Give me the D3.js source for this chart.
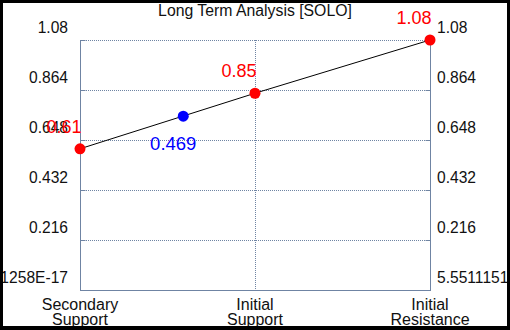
<!DOCTYPE html>
<html>
<head>
<meta charset="utf-8">
<script src="https://cdn.jsdelivr.net/npm/d3@7"></script>
<style>
  html, body { margin: 0; padding: 0; background: #000; }
  svg { display: block; }
</style>
</head>
<body>
<script>
// levels on the chart
var categories = ["Secondary|Support", "Initial|Support", "Initial|Resistance"];
var levels = [0.61, 0.85, 1.08];
var levelLabels = ["0.61", "0.85", "1.08"];
// current price marker (sits on the line between the first two levels)
var priceIndex = 0.59;
var priceOnLine = 0.751;
var priceLabel = "0.469";
var yTicks = [0, 0.216, 0.432, 0.648, 0.864, 1.08];
var yTickLabels = ["5.5511151231258E-17", "0.216", "0.432", "0.648", "0.864", "1.08"];

var W = 510, H = 330;
var margin = { top: 40, right: 80, bottom: 40, left: 80 },
  width = W - margin.left - margin.right,
  height = H - margin.top - margin.bottom;

var root = d3.select("body").append("svg")
  .attr("width", W)
  .attr("height", H)
  .style("font-family", "'Liberation Sans', Arial, sans-serif");

// white panel inside black frame
root.append("rect")
  .attr("x", 3).attr("y", 3)
  .attr("width", W - 6).attr("height", H - 7)
  .attr("fill", "#fff");

root.append("clipPath").attr("id", "cl")
  .append("rect").attr("x", 3).attr("y", 3).attr("width", W - 6).attr("height", H - 7);

var outer = root.append("g").attr("clip-path", "url(#cl)");
var svg = outer.append("g")
  .attr("transform", "translate(" + margin.left + "," + margin.top + ")");

var x = d3.scaleLinear().domain([0, categories.length - 1]).range([0, width]);
var y = d3.scaleLinear().domain([0, 1.08]).range([height, 0]);

var gridColor = "#6f84a3";

// horizontal dotted grid
svg.selectAll(".hgrid")
  .data(yTicks.slice(1))
  .enter().append("line")
  .attr("x1", 0).attr("x2", width)
  .attr("y1", function (d) { return y(d) + 0.5; })
  .attr("y2", function (d) { return y(d) + 0.5; })
  .attr("stroke", gridColor)
  .attr("stroke-width", 1)
  .attr("stroke-dasharray", "1,1");

// vertical dotted grid at middle category
svg.selectAll(".vgrid")
  .data([1])
  .enter().append("line")
  .attr("x1", function (d) { return x(d) + 0.5; })
  .attr("x2", function (d) { return x(d) + 0.5; })
  .attr("y1", 0).attr("y2", height)
  .attr("stroke", gridColor)
  .attr("stroke-dasharray", "1,1");

// axes
var axisL = svg.append("g").attr("transform", "translate(0.5,0)")
  .call(d3.axisLeft(y).tickValues(yTicks).tickSize(-5).tickFormat(""));
var axisR = svg.append("g").attr("transform", "translate(" + (width + 0.5) + ",0)")
  .call(d3.axisRight(y).tickValues(yTicks).tickSize(-5).tickFormat(""));
svg.append("line")
  .attr("x1", 0).attr("x2", width + 1)
  .attr("y1", height + 0.5).attr("y2", height + 0.5)
  .attr("stroke", gridColor);
[axisL, axisR].forEach(function (a) {
  a.selectAll("path, line").attr("stroke", gridColor);
  a.select(".domain").attr("d", "M0,0V" + height);
});

// y tick labels, both sides
svg.selectAll(".ylab")
  .data(yTicks)
  .enter().append("text")
  .attr("x", -12)
  .attr("y", function (d) { return y(d) - 7; })
  .attr("text-anchor", "end")
  .attr("font-size", "15.6px")
  .attr("fill", "#111")
  .text(function (d, i) { return yTickLabels[i]; });

svg.selectAll(".yrlab")
  .data(yTicks)
  .enter().append("text")
  .attr("x", width + 7)
  .attr("y", function (d) { return y(d) - 7; })
  .attr("font-size", "15.6px")
  .attr("fill", "#111")
  .text(function (d, i) { return yTickLabels[i]; });

// x category labels
categories.forEach(function (c, i) {
  var t = svg.append("text")
    .attr("x", x(i))
    .attr("y", height + 20)
    .attr("text-anchor", "middle")
    .attr("font-size", "16px")
    .attr("fill", "#111");
  c.split("|").forEach(function (part, k) {
    t.append("tspan").attr("x", x(i)).attr("dy", k === 0 ? 0 : 15).text(part);
  });
});

// line through levels
svg.append("path")
  .datum(levels)
  .attr("fill", "none")
  .attr("stroke", "#000")
  .attr("stroke-width", 1)
  .attr("d", d3.line().x(function (d, i) { return x(i); }).y(function (d) { return y(d); }));

// level points
svg.selectAll(".pt")
  .data(levels)
  .enter().append("circle")
  .attr("cx", function (d, i) { return x(i); })
  .attr("cy", function (d) { return y(d); })
  .attr("r", 5.5)
  .attr("fill", "#ff0000");

svg.selectAll(".ptlab")
  .data(levels)
  .enter().append("text")
  .attr("x", function (d, i) { return x(i) - 16; })
  .attr("y", function (d) { return y(d) - 16; })
  .attr("text-anchor", "middle")
  .attr("font-size", "18px")
  .attr("fill", "#ff0000")
  .text(function (d, i) { return levelLabels[i]; });

// current price point
svg.append("circle")
  .attr("cx", x(priceIndex))
  .attr("cy", y(priceOnLine))
  .attr("r", 5.5)
  .attr("fill", "#0000ff");

svg.append("text")
  .attr("x", x(priceIndex) - 10)
  .attr("y", y(priceOnLine) + 34)
  .attr("text-anchor", "middle")
  .attr("font-size", "18.5px")
  .attr("fill", "#0000ff")
  .text(priceLabel);

// title
outer.append("text")
  .attr("x", W / 2)
  .attr("y", 16)
  .attr("text-anchor", "middle")
  .attr("font-size", "15.8px")
  .attr("fill", "#111")
  .text("Long Term Analysis [SOLO]");
</script>
</body>
</html>
